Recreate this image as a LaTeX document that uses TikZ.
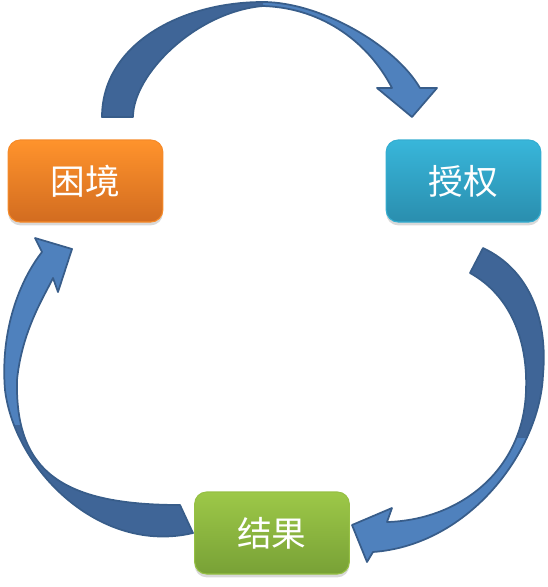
\documentclass[tikz,border=0pt]{standalone}
\usepackage{fontspec}
\newfontfamily\cjk{Noto Sans CJK SC}
\usetikzlibrary{shadows}
\definecolor{arrlight}{HTML}{4F81BD}
\definecolor{arrdark}{HTML}{3F6597}
\definecolor{arredge}{HTML}{385D8A}
\definecolor{orT}{HTML}{FF932C}
\definecolor{orB}{HTML}{D26C20}
\definecolor{blT}{HTML}{38B6DA}
\definecolor{blB}{HTML}{2A8EAE}
\definecolor{grT}{HTML}{9DC848}
\definecolor{grB}{HTML}{78A136}
\tikzset{
  box/.style={rounded corners=9pt, minimum width=116pt, minimum height=61.5pt,
    inner sep=0pt, text=white, font=\cjk\fontsize{26pt}{30pt}\selectfont,
    drop shadow={opacity=0.3, shadow xshift=0pt, shadow yshift=-2.5pt}},
  arrfill/.style={fill=arrlight},
  arrline/.style={draw=arredge, line width=1.3pt, line join=round}
}
\begin{document}
\begin{tikzpicture}[x=0.75pt,y=-0.75pt]
\useasboundingbox (0,0) rectangle (548,587);
% nodes
\node[box, top color=orT, bottom color=orB, draw=orT!80!orB, line width=0.8pt] (kj) at (85.5,181) {困境};
\node[box, top color=blT, bottom color=blB, draw=blT!80!blB, line width=0.8pt] (sq) at (463.5,181) {授权};
\node[box, top color=grT, bottom color=grB, draw=grT!80!grB, line width=0.8pt] (jg) at (272,533) {结果};
% top arrow
\def\toparrow{(102,117) .. controls (102,45) and (180,2) .. (263,2) .. controls (320,2) and (395,45) .. (420,88) -- (437,88) -- (412,117) -- (377,88) -- (392,88) .. controls (370,45) and (325,8) .. (263,6) .. controls (195,12) and (133,75) .. (133,117) -- cycle}
\fill[arrlight] \toparrow;
\begin{scope}
\clip (0,0) rectangle (263,130);
\fill[arrdark] \toparrow;
\end{scope}
\draw[arrline] \toparrow;
% right arrow
\def\rightarrow{(483,248) .. controls (530,270) and (548,320) .. (543,375) .. controls (540,450) and (470,545) .. (373,552) -- (367,562) -- (352,525) -- (392,508) -- (387,522) .. controls (460,520) and (524,470) .. (526,390) .. controls (528,340) and (510,295) .. (470,273) -- cycle}
\fill[arrlight] \rightarrow;
\begin{scope}
\clip (300,230) rectangle (548,437);
\fill[arrdark] \rightarrow;
\end{scope}
\draw[arrline] \rightarrow;
% left arrow
\def\leftarrow{(193,533) .. controls (100,555) and (15,470) .. (5,390) .. controls (0,330) and (20,280) .. (42,252) -- (35,238) -- (72,249) -- (58,292) -- (53,278) .. controls (45,295) and (22,330) .. (17,380) .. controls (15,470) and (60,505) .. (180,505) -- cycle}
\fill[arrlight] \leftarrow;
\begin{scope}
\clip (0,425) rectangle (200,587);
\fill[arrdark] \leftarrow;
\end{scope}
\draw[arrline] \leftarrow;
\end{tikzpicture}
\end{document}
